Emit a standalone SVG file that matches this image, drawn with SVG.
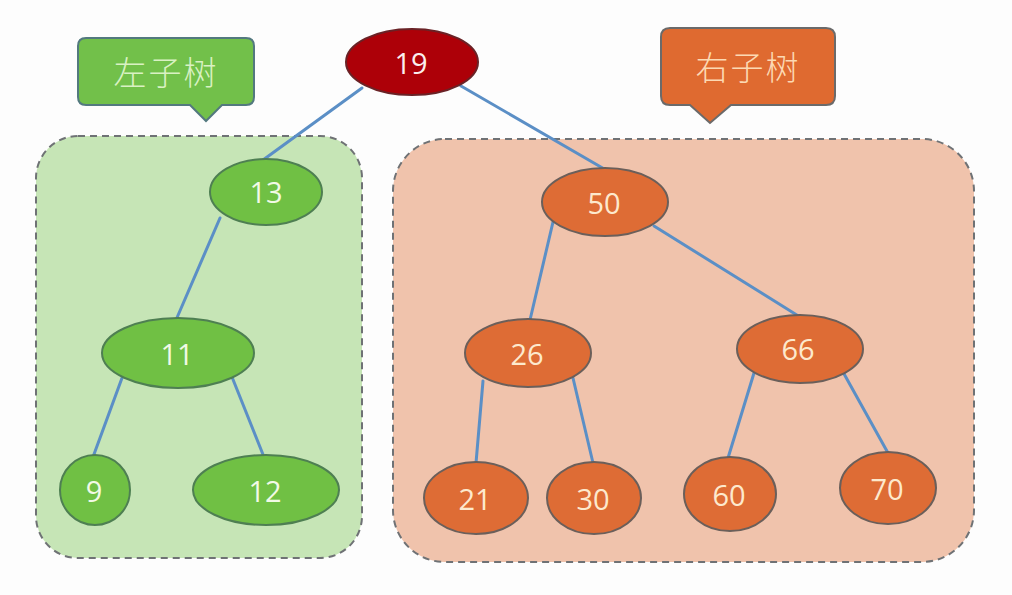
<svg xmlns="http://www.w3.org/2000/svg" width="1012" height="595" viewBox="0 0 1012 595">
<style>
.bg{fill:#fdfdfd}
.box{stroke:#6f7275;stroke-width:2;stroke-dasharray:7 5}
.gbox{fill:#c6e5b6}
.obox{fill:#f0c3ac}
.edge{stroke:#5b8fc6;stroke-width:3;fill:none;stroke-linecap:round}
.gn{fill:#70c044;stroke:#4e7f52;stroke-width:2}
.on{fill:#de6c35;stroke:#6b5f5a;stroke-width:2}
.rn{fill:#ad0008;stroke:#6a2226;stroke-width:2}
.num{font-family:"Open Sans","Liberation Sans",sans-serif;font-size:29px;text-anchor:middle;dominant-baseline:central}
.gt{fill:#f2fae6}
.ot{fill:#fde9cd}
.rt{fill:#fbeeee}
.cap{font-family:"Noto Sans CJK SC",sans-serif;font-size:33px;font-weight:300;text-anchor:middle;dominant-baseline:central;letter-spacing:2px}
</style>
<rect class="bg" x="0" y="0" width="1012" height="595"/>
<g id="left-region"><rect class="box gbox" x="36" y="136" width="326" height="422" rx="42"/></g>
<g id="right-region"><rect class="box obox" x="393" y="139" width="581" height="423" rx="52"/></g>
<g id="callout-left">
<path d="M86 38 H246 Q254 38 254 46 V97 Q254 105 246 105 H222 L206 121 L190 105 H86 Q78 105 78 97 V46 Q78 38 86 38 Z" fill="#72c04a" stroke="#53797f" stroke-width="2"/>
<text class="cap" x="166" y="71" fill="#d9f1c3">左子树</text>
</g>
<g id="callout-right">
<path d="M670 28 H826 Q835 28 835 37 V96 Q835 105 826 105 H731 L710 123 L690 105 H670 Q661 105 661 96 V37 Q661 28 670 28 Z" fill="#df6a30" stroke="#6b6a6a" stroke-width="2"/>
<text class="cap" x="748" y="66" fill="#fcd9b3">右子树</text>
</g>
<g id="connectors">
<line class="edge" x1="362" y1="88" x2="263" y2="160"/>
<line class="edge" x1="461" y1="86" x2="606" y2="170"/>
<line class="edge" x1="220" y1="218" x2="176" y2="320"/>
<line class="edge" x1="122" y1="378" x2="93" y2="457"/>
<line class="edge" x1="232" y1="377" x2="264" y2="457"/>
<line class="edge" x1="553" y1="222" x2="530" y2="320"/>
<line class="edge" x1="654" y1="226" x2="800" y2="317"/>
<line class="edge" x1="483" y1="381" x2="476" y2="463"/>
<line class="edge" x1="573" y1="378" x2="593" y2="463"/>
<line class="edge" x1="754" y1="373" x2="728" y2="458"/>
<line class="edge" x1="843" y1="372" x2="888" y2="453"/>
</g>
<g id="n19"><ellipse class="rn" cx="412" cy="62" rx="66" ry="33"/><text class="num rt" x="411" y="62">19</text></g>
<g id="n13"><ellipse class="gn" cx="266" cy="192" rx="56" ry="33"/><text class="num gt" x="266" y="191">13</text></g>
<g id="n11"><ellipse class="gn" cx="178" cy="353" rx="76" ry="35"/><text class="num gt" x="177" y="353">11</text></g>
<g id="n9"><ellipse class="gn" cx="95" cy="490" rx="35" ry="35"/><text class="num gt" x="94" y="490">9</text></g>
<g id="n12"><ellipse class="gn" cx="266" cy="490" rx="73" ry="35"/><text class="num gt" x="265" y="490">12</text></g>
<g id="n50"><ellipse class="on" cx="605" cy="202" rx="63" ry="34"/><text class="num ot" x="604" y="202">50</text></g>
<g id="n26"><ellipse class="on" cx="528" cy="353" rx="63" ry="34"/><text class="num ot" x="527" y="353">26</text></g>
<g id="n66"><ellipse class="on" cx="800" cy="349" rx="63" ry="34"/><text class="num ot" x="798" y="348">66</text></g>
<g id="n21"><ellipse class="on" cx="476" cy="498" rx="52" ry="36"/><text class="num ot" x="475" y="498">21</text></g>
<g id="n30"><ellipse class="on" cx="594" cy="498" rx="47" ry="36"/><text class="num ot" x="593" y="498">30</text></g>
<g id="n60"><ellipse class="on" cx="730" cy="494" rx="46" ry="37"/><text class="num ot" x="729" y="494">60</text></g>
<g id="n70"><ellipse class="on" cx="888" cy="488" rx="48" ry="36"/><text class="num ot" x="887" y="488">70</text></g>
</svg>
